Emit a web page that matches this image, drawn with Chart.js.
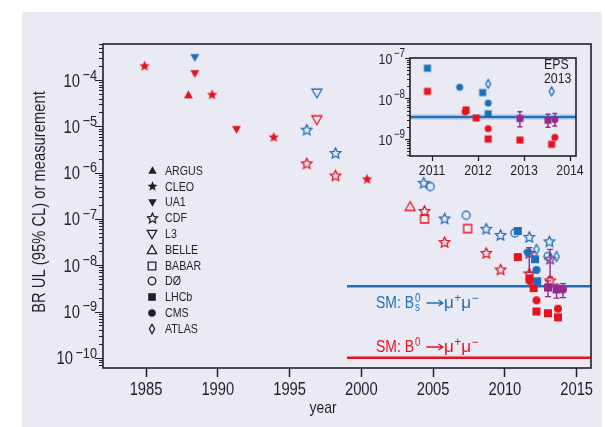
<!DOCTYPE html>
<html>
<head>
<meta charset="utf-8">
<title>Bs and B0 to mu mu searches</title>
<script src="https://cdn.jsdelivr.net/npm/chart.js@4.4.1/dist/chart.umd.min.js"></script>
<style>
  html, body { margin: 0; padding: 0; background: #ffffff; }
  #wrap { position: relative; width: 605px; height: 427px; overflow: hidden; }
  #main { position: absolute; left: 0; top: 0; }
  #inset { position: absolute; left: 362px; top: 46px; }
</style>
</head>
<body>
<div id="wrap">
  <canvas id="main" width="605" height="427"></canvas>
  <canvas id="inset" width="228" height="144"></canvas>
</div>
<script>
// ---------- axes ----------
const xTicks = [1985, 1990, 1995, 2000, 2005, 2010, 2015];
const yDecades = [-10, -9, -8, -7, -6, -5, -4];
const insetXTicks = [2011, 2012, 2013, 2014];
const insetYDecades = [-9, -8, -7];
const legendNames = ['ARGUS', 'CLEO', 'UA1', 'CDF', 'L3', 'BELLE', 'BABAR', 'DØ', 'LHCb', 'CMS', 'ATLAS'];

// ---------- main panel: [year, BR] (upper limits); measurements: [year, BR, upper, lower] ----------
const argusBd = [[1987.95, 4.8e-5]];
const cleoBd  = [[1984.9, 2.0e-4], [1989.6, 4.8e-5], [1993.9, 5.8e-6], [2000.4, 7.2e-7]];
const ua1Bs   = [[1988.4, 3.1e-4]];
const ua1Bd   = [[1988.4, 1.4e-4], [1991.3, 8.7e-6]];
const cdfBs   = [[1996.2, 8.3e-6], [1998.2, 2.6e-6], [2004.35, 5.9e-7], [2005.8, 1.0e-7], [2008.7, 6.0e-8], [2009.7, 4.4e-8], [2011.7, 4.0e-8], [2013.1, 3.2e-8]];
const cdfBd   = [[1996.2, 1.55e-6], [1998.2, 8.5e-7], [2004.4, 1.45e-7], [2005.8, 3.1e-8], [2008.7, 1.8e-8], [2009.7, 7.9e-9], [2011.7, 6.5e-9], [2013.15, 4.6e-9]];
const cdfMeas = [[2011.7, 1.8e-8, 2.4e-8, 7.0e-9], [2013.15, 1.35e-8, 2.2e-8, 5.5e-9]];
const l3Bs    = [[1996.9, 5.3e-5]];
const l3Bd    = [[1996.9, 1.4e-5]];
const belleBd = [[2003.4, 1.85e-7]];
const babarBd = [[2004.4, 1.0e-7], [2007.4, 6.2e-8]];
const d0Bs    = [[2004.8, 5.0e-7], [2007.3, 1.2e-7], [2010.7, 5.0e-8], [2013.0, 1.55e-8]];
const lhcbBs  = [[2010.9, 5.5e-8], [2012.1, 1.35e-8], [2012.25, 4.5e-9]];
const lhcbBd  = [[2010.9, 1.5e-8], [2011.72, 5.2e-9], [2012.0, 3.2e-9], [2012.2, 1.0e-9], [2013.0, 9.2e-10], [2013.7, 7.5e-10]];
const lhcbMeas = [[2013.0, 3.3e-9, 4.6e-9, 2.1e-9], [2013.6, 3.0e-9, 3.9e-9, 1.95e-9]];
const cmsBs   = [[2011.6, 1.9e-8], [2012.2, 7.9e-9]];
const cmsBd   = [[2011.72, 4.6e-9], [2012.2, 1.75e-9], [2013.7, 1.15e-9]];
const cmsMeas = [[2014.05, 3.0e-9, 4.0e-9, 2.0e-9]];
const atlasBs = [[2012.2, 2.2e-8], [2013.6, 1.55e-8]];

// Standard Model expectations
const smBs = 3.5e-9;
const smBd = 1.0e-10;
const smStartYear = 1999;

// ---------- inset (2011-2014 zoom) ----------
const insLhcbBs   = [[2010.9, 5.6e-8], [2012.1, 1.4e-8], [2012.22, 4.2e-9]];
const insLhcbBd   = [[2010.9, 1.5e-8], [2011.74, 5.2e-9], [2011.96, 3.3e-9], [2012.22, 1.0e-9], [2012.91, 9.4e-10], [2013.6, 7.4e-10]];
const insLhcbMeas = [[2012.91, 3.2e-9, 4.7e-9, 2.0e-9], [2013.52, 2.9e-9, 4.1e-9, 1.95e-9]];
const insCmsBs    = [[2011.6, 1.9e-8], [2012.22, 7.7e-9]];
const insCmsBd    = [[2011.72, 4.7e-9], [2012.22, 1.8e-9], [2013.67, 1.1e-9]];
const insCmsMeas  = [[2013.67, 3.0e-9, 4.3e-9, 2.1e-9]];
const insAtlasBs  = [[2012.22, 2.3e-8], [2013.6, 1.5e-8]];

// ---------- styling ----------
const C_RED = '#e8121e';
const C_BLUE = '#1c71b8';
const C_PURPLE = '#97288d';
const C_INK = '#231f20';
const LAVENDER = '#eaeaf5';
const FONT = '"Liberation Sans", Arial, sans-serif';
const NARROW = 0.82;   // horizontal squeeze giving a condensed face

const markerStyle = {
  'ARGUS': { shape: 'up', filled: true, size: 9 },
  'CLEO':  { shape: 'star', filled: true, size: 11 },
  'UA1':   { shape: 'down', filled: true, size: 9 },
  'CDF':   { shape: 'star', filled: false, size: 11 },
  'L3':    { shape: 'down', filled: false, size: 10 },
  'BELLE': { shape: 'up', filled: false, size: 10 },
  'BABAR': { shape: 'square', filled: false, size: 8 },
  'DØ':    { shape: 'circle', filled: false, size: 8 },
  'LHCb':  { shape: 'square', filled: true, size: 8 },
  'CMS':   { shape: 'circle', filled: true, size: 8 },
  'ATLAS': { shape: 'diamond', filled: false, size: 10 }
};

// condensed text helpers
function tw(ctx, s, size, sq) {
  ctx.save(); ctx.font = size + 'px ' + FONT;
  const w = ctx.measureText(s).width * (sq === undefined ? NARROW : sq);
  ctx.restore();
  return w;
}
function txt(ctx, s, x, y, size, align, baseline, rot, sq) {
  ctx.save();
  ctx.font = size + 'px ' + FONT;
  ctx.textAlign = align || 'left';
  ctx.textBaseline = baseline || 'alphabetic';
  ctx.translate(x, y);
  if (rot) ctx.rotate(rot);
  const k = sq === undefined ? NARROW : sq;
  ctx.scale(k, 1);
  ctx.fillText(s, 0, 0);
  ctx.restore();
}

// draws one marker glyph into a small canvas, used as a Chart.js pointStyle
function marker(name, color, scale) {
  const st = markerStyle[name];
  const size = st.size * scale;
  const pad = 2;
  const w = Math.ceil(size + 2 * pad);
  const c = document.createElement('canvas');
  c.width = w; c.height = w;
  const g = c.getContext('2d');
  const m = w / 2, r = size / 2;
  g.beginPath();
  if (st.shape === 'circle') {
    g.arc(m, m, r, 0, Math.PI * 2);
  } else if (st.shape === 'square') {
    g.rect(m - r, m - r, 2 * r, 2 * r);
  } else if (st.shape === 'up') {
    g.moveTo(m, m - r); g.lineTo(m + r, m + r * 0.75); g.lineTo(m - r, m + r * 0.75);
  } else if (st.shape === 'down') {
    g.moveTo(m, m + r); g.lineTo(m + r, m - r * 0.75); g.lineTo(m - r, m - r * 0.75);
  } else if (st.shape === 'diamond') {
    g.moveTo(m, m - r); g.lineTo(m + r * 0.55, m); g.lineTo(m, m + r); g.lineTo(m - r * 0.55, m);
  } else if (st.shape === 'star') {
    const inner = st.filled ? 0.45 : 0.48;
    for (let i = 0; i < 10; i++) {
      const a = -Math.PI / 2 + i * Math.PI / 5;
      const rr = i % 2 ? r * inner : r;
      const X = m + rr * Math.cos(a), Y = m + rr * Math.sin(a);
      if (i) g.lineTo(X, Y); else g.moveTo(X, Y);
    }
  }
  g.closePath();
  if (st.filled) { g.fillStyle = color; g.fill(); }
  else { g.strokeStyle = color; g.lineWidth = 1.3; g.stroke(); }
  return c;
}

function scatterSet(s, scale) {
  return {
    type: 'scatter',
    label: s.exp,
    data: s.pts.map(p => ({ x: p[0], y: p[1] })),
    pointStyle: marker(s.exp, s.color, scale),
    pointRadius: 5,
    pointHoverRadius: 5,
    showLine: false,
    order: s.order
  };
}

function lineSet(x0, x1, v, color, width, order) {
  return {
    type: 'line',
    data: [{ x: x0, y: v }, { x: x1, y: v }],
    borderColor: color, borderWidth: width,
    pointRadius: 0, fill: false, order: order
  };
}

function drawErrorBars(chart, groups, cap) {
  const { ctx, scales: { x, y } } = chart;
  ctx.save();
  ctx.strokeStyle = C_PURPLE;
  ctx.lineWidth = 1.4;
  groups.forEach(g => g.forEach(p => {
    const px = x.getPixelForValue(p[0]);
    const hi = y.getPixelForValue(p[2]);
    const lo = y.getPixelForValue(p[3]);
    ctx.beginPath();
    ctx.moveTo(px, hi); ctx.lineTo(px, lo);
    ctx.moveTo(px - cap, hi); ctx.lineTo(px + cap, hi);
    ctx.moveTo(px - cap, lo); ctx.lineTo(px + cap, lo);
    ctx.stroke();
  }));
  ctx.restore();
}

// log-axis ticks (outward) and 10^n labels
function drawLogAxis(chart, decades, majorLen, minorLen, baseSize, expSize, gap, baseDy, expDy, expGap) {
  const { ctx, chartArea: a, scales: { y } } = chart;
  ctx.save();
  ctx.strokeStyle = C_INK;
  ctx.lineWidth = 1.2;
  ctx.beginPath();
  for (let e = -12; e <= -2; e++) {
    for (let k = 1; k <= 9; k++) {
      const v = k * Math.pow(10, e);
      if (v < y.min * 0.999 || v > y.max * 1.001) continue;
      const py = Math.round(y.getPixelForValue(v)) + 0.5;
      const len = k === 1 ? majorLen : minorLen;
      ctx.moveTo(a.left - len, py); ctx.lineTo(a.left, py);
    }
  }
  ctx.stroke();
  ctx.fillStyle = C_INK;
  decades.forEach(e => {
    const py = y.getPixelForValue(Math.pow(10, e));
    const es = '−' + Math.abs(e);
    const wb = tw(ctx, '10', baseSize);
    const we = tw(ctx, es, expSize);
    const x0 = a.left - gap - we - wb - expGap;
    txt(ctx, '10', x0, py + baseDy, baseSize, 'left', 'middle');
    txt(ctx, es, x0 + wb + expGap, py + expDy, expSize, 'left', 'middle');
  });
  ctx.restore();
}

function drawXLabels(chart, values, size, yc) {
  const { ctx, scales: { x } } = chart;
  ctx.save();
  ctx.fillStyle = C_INK;
  values.forEach(v => txt(ctx, String(v), x.getPixelForValue(v), yc, size, 'center', 'middle'));
  ctx.restore();
}

function drawFrame(chart) {
  const { ctx, chartArea: a } = chart;
  ctx.save();
  ctx.strokeStyle = C_INK;
  ctx.lineWidth = 1.6;
  ctx.strokeRect(a.left, a.top, a.right - a.left, a.bottom - a.top);
  ctx.restore();
}

// "SM: B(s)0 -> mu+ mu-" label
function drawSM(ctx, x, y, color, sub) {
  const big = 17, small = 12;
  ctx.save();
  ctx.fillStyle = color;
  let cx = x;
  const put = (t, size, dy, sq) => { txt(ctx, t, cx, y + (dy || 0), size, 'left', 'alphabetic', 0, sq); cx += tw(ctx, t, size, sq); };
  put('SM: B', big);
  cx += 1;
  if (sub) {
    txt(ctx, sub, cx, y + 3, small);
    txt(ctx, '0', cx, y - 6, small);
    cx += Math.max(tw(ctx, sub, small), tw(ctx, '0', small));
  } else {
    put('0', small, -6);
  }
  cx += 6;
  // long arrow
  ctx.strokeStyle = color; ctx.lineWidth = 1.3;
  ctx.beginPath();
  ctx.moveTo(cx, y - 5); ctx.lineTo(cx + 16, y - 5);
  ctx.moveTo(cx + 12, y - 8); ctx.lineTo(cx + 16.5, y - 5); ctx.lineTo(cx + 12, y - 2);
  ctx.stroke();
  cx += 17.5;
  put('μ', big, 0, 1); cx += 0.5; put('+', small, -6, 1);
  put('μ', big, 0, 1); cx += 0.5; put('−', small, -6, 1);
  ctx.restore();
}

const mainSeries = [
  { exp: 'LHCb', color: C_PURPLE, pts: lhcbMeas, order: 0 },
  { exp: 'CMS', color: C_PURPLE, pts: cmsMeas, order: 0 },
  { exp: 'CMS', color: C_BLUE, pts: cmsBs, order: 1 },
  { exp: 'CMS', color: C_RED, pts: cmsBd, order: 2 },
  { exp: 'LHCb', color: C_BLUE, pts: lhcbBs, order: 1 },
  { exp: 'LHCb', color: C_RED, pts: lhcbBd, order: 2 },
  { exp: 'ATLAS', color: C_BLUE, pts: atlasBs, order: 1 },
  { exp: 'CDF', color: C_BLUE, pts: cdfBs, order: 2 },
  { exp: 'CDF', color: C_RED, pts: cdfBd, order: 1 },
  { exp: 'CDF', color: C_PURPLE, pts: cdfMeas, order: 3 },
  { exp: 'DØ', color: C_BLUE, pts: d0Bs, order: 2 },
  { exp: 'BABAR', color: C_RED, pts: babarBd, order: 3 },
  { exp: 'BELLE', color: C_RED, pts: belleBd, order: 3 },
  { exp: 'L3', color: C_BLUE, pts: l3Bs, order: 3 },
  { exp: 'L3', color: C_RED, pts: l3Bd, order: 3 },
  { exp: 'UA1', color: C_BLUE, pts: ua1Bs, order: 3 },
  { exp: 'UA1', color: C_RED, pts: ua1Bd, order: 3 },
  { exp: 'CLEO', color: C_RED, pts: cleoBd, order: 3 },
  { exp: 'ARGUS', color: C_RED, pts: argusBd, order: 3 }
];

const insetSeries = [
  { exp: 'CMS', color: C_PURPLE, pts: insCmsMeas, order: 0 },
  { exp: 'LHCb', color: C_PURPLE, pts: insLhcbMeas, order: 1 },
  { exp: 'CMS', color: C_BLUE, pts: insCmsBs, order: 2 },
  { exp: 'CMS', color: C_RED, pts: insCmsBd, order: 2 },
  { exp: 'LHCb', color: C_BLUE, pts: insLhcbBs, order: 2 },
  { exp: 'LHCb', color: C_RED, pts: insLhcbBd, order: 1 },
  { exp: 'ATLAS', color: C_BLUE, pts: insAtlasBs, order: 2 }
];

Chart.defaults.font.family = FONT;
Chart.defaults.color = C_INK;

const X_MIN = 1982, X_MAX = 2016;

// ---------- main chart ----------
new Chart(document.getElementById('main'), {
  type: 'scatter',
  data: {
    datasets: [
      ...mainSeries.map(s => scatterSet(s, 1)),
      lineSet(smStartYear, X_MAX, smBs, C_BLUE, 2.5, 10),
      lineSet(smStartYear, X_MAX, smBd, C_RED, 2.5, 10)
    ]
  },
  options: {
    responsive: false,
    devicePixelRatio: 1,
    animation: false,
    events: [],
    layout: { padding: { left: 0, right: 14, top: 44, bottom: 0 } },
    plugins: { legend: { display: false }, tooltip: { enabled: false } },
    scales: {
      x: {
        type: 'linear', min: X_MIN, max: X_MAX,
        afterBuildTicks: s => { s.ticks = xTicks.map(v => ({ value: v })); },
        afterFit: s => { s.height = 59; },
        grid: { display: true, drawOnChartArea: false, drawTicks: true, tickLength: 9, tickColor: C_INK, tickWidth: 1.5 },
        border: { display: false },
        ticks: { display: false }
      },
      y: {
        type: 'logarithmic', min: Math.pow(10, -10.22), max: Math.pow(10, -3.22),
        afterFit: s => { s.width = 103; },
        grid: { display: false },
        border: { display: false },
        ticks: { display: false }
      }
    }
  },
  plugins: [{
    id: 'mainDecor',
    beforeDraw(chart) {
      const c = chart.ctx;
      c.save(); c.fillStyle = LAVENDER; c.fillRect(22, 12, 580, 415); c.restore();
    },
    beforeDatasetsDraw(chart) {
      drawErrorBars(chart, [cdfMeas, lhcbMeas, cmsMeas], 3);
    },
    afterDraw(chart) {
      const c = chart.ctx;
      drawFrame(chart);
      drawLogAxis(chart, yDecades, 8, 4, 18, 15.5, 6, 1.5, -4.5, 2.5);
      drawXLabels(chart, xTicks, 18, 390);
      c.save();
      c.fillStyle = C_INK;
      // axis titles
      txt(c, 'BR UL (95% CL) or measurement', 40, 202, 18, 'center', 'middle', -Math.PI / 2);
      txt(c, 'year', 323, 408, 17, 'center', 'middle');
      // legend
      legendNames.forEach((n, i) => {
        const y = 170.7 + i * 15.8;
        const m = marker(n, C_INK, 0.95);
        c.drawImage(m, Math.round(152 - m.width / 2), Math.round(y - m.height / 2));
        txt(c, n, 165, y + 0.5, 13, 'left', 'middle');
      });
      c.restore();
      drawSM(c, 376, 308, C_BLUE, 's');
      drawSM(c, 376, 352, C_RED, null);
    }
  }]
});

// ---------- inset ----------
const IX_MIN = 2010.52, IX_MAX = 2014.13;
new Chart(document.getElementById('inset'), {
  type: 'scatter',
  data: {
    datasets: [
      ...insetSeries.map(s => scatterSet(s, 0.88)),
      lineSet(IX_MIN, IX_MAX, smBs, 'rgba(28,113,184,0.35)', 5, 11),
      lineSet(IX_MIN, IX_MAX, smBs, C_BLUE, 2, 10)
    ]
  },
  options: {
    responsive: false,
    devicePixelRatio: 1,
    animation: false,
    events: [],
    layout: { padding: { left: 0, right: 14, top: 12, bottom: 0 } },
    plugins: { legend: { display: false }, tooltip: { enabled: false } },
    scales: {
      x: {
        type: 'linear', min: IX_MIN, max: IX_MAX,
        afterBuildTicks: s => { s.ticks = insetXTicks.map(v => ({ value: v })); },
        afterFit: s => { s.height = 34; },
        grid: { display: true, drawOnChartArea: false, drawTicks: true, tickLength: 5, tickColor: C_INK, tickWidth: 1.3 },
        border: { display: false },
        ticks: { display: false }
      },
      y: {
        type: 'logarithmic', min: Math.pow(10, -9.42), max: 1e-7,
        afterFit: s => { s.width = 48; },
        grid: { display: false },
        border: { display: false },
        ticks: { display: false }
      }
    }
  },
  plugins: [{
    id: 'insetDecor',
    beforeDatasetsDraw(chart) {
      drawErrorBars(chart, [insLhcbMeas, insCmsMeas], 2.5);
    },
    afterDraw(chart) {
      const c = chart.ctx;
      drawFrame(chart);
      drawLogAxis(chart, insetYDecades, 5, 3, 15, 12, 5, 2, -4, 1.5);
      drawXLabels(chart, insetXTicks, 15, 124.5);
      c.save();
      c.fillStyle = C_INK;
      txt(c, 'EPS', 182, 19, 15, 'left', 'middle');
      txt(c, '2013', 182, 33, 15, 'left', 'middle');
      c.restore();
    }
  }]
});
</script>
</body>
</html>
